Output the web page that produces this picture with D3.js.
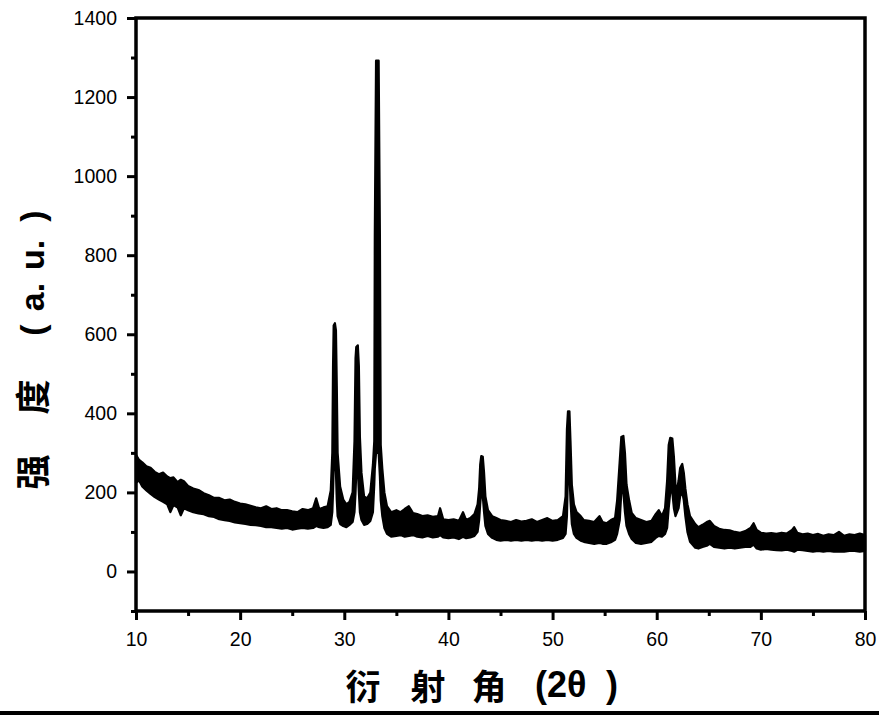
<!DOCTYPE html>
<html><head><meta charset="utf-8">
<script src="https://cdn.jsdelivr.net/npm/d3@7"></script>
<style>body{margin:0;background:#fff}svg{display:block}</style>
</head><body><svg id="c" width="879" height="715"></svg>
<script>
// 2θ positions (degrees) and the read lower / upper edges of the noisy trace (a.u.)
const twoTheta = [10.0,10.3,10.6,11.0,11.4,11.8,12.2,12.6,13.0,13.3,13.6,14.0,14.3,14.6,15.0,15.5,16.0,16.5,17.0,17.5,18.0,18.5,19.0,19.5,20.0,20.5,21.0,21.5,22.0,22.5,23.0,23.5,24.0,24.5,25.0,25.5,26.0,26.5,27.0,27.3,27.6,28.0,28.4,28.7,28.85,28.92,28.98,29.1,29.2,29.28,29.36,29.6,29.9,30.2,30.5,30.8,30.98,31.08,31.15,31.3,31.4,31.5,31.65,31.9,32.2,32.5,32.75,32.88,32.93,33.05,33.3,33.42,33.5,33.65,33.85,34.1,34.5,35.0,35.4,35.8,36.2,36.6,37.0,37.5,38.0,38.5,39.0,39.2,39.5,40.0,40.5,41.0,41.4,41.7,42.1,42.5,42.8,42.95,43.05,43.15,43.3,43.42,43.55,43.8,44.2,44.6,45.0,45.5,46.0,46.5,47.0,47.5,48.0,48.5,49.0,49.5,50.0,50.5,51.0,51.25,51.38,51.48,51.62,51.72,51.85,52.05,52.3,52.7,53.0,53.5,54.0,54.5,54.8,55.2,55.6,56.0,56.2,56.45,56.6,56.8,56.95,57.1,57.35,57.6,58.0,58.5,59.0,59.5,59.9,60.2,60.5,60.8,61.0,61.15,61.3,61.5,61.65,61.8,61.95,62.1,62.25,62.45,62.6,62.75,62.95,63.2,63.7,64.0,64.4,64.8,65.1,65.5,66.0,66.5,67.0,67.5,68.0,68.5,69.0,69.3,69.6,70.0,70.5,71.0,71.5,72.0,72.5,73.0,73.2,73.5,74.0,74.5,75.0,75.5,76.0,76.5,77.0,77.5,78.0,78.5,79.0,79.5,80.0];
const lowerIntensity = [225,230,215,205,196,188,182,176,170,150,168,162,142,160,155,150,147,145,140,138,132,130,128,124,122,120,118,117,115,112,112,110,108,110,106,108,110,108,110,115,112,110,112,118,150,200,260,300,250,180,140,120,115,112,118,125,150,200,250,260,200,150,130,118,120,128,150,220,260,300,300,240,180,140,110,95,88,90,92,88,90,92,88,86,90,86,88,92,86,84,86,82,88,84,86,90,100,130,170,200,190,150,115,95,85,80,78,80,78,80,78,80,78,80,78,80,78,80,85,95,140,250,250,180,120,95,85,78,75,72,70,72,70,70,74,80,95,130,200,200,150,115,95,82,72,70,72,75,85,90,88,95,110,160,200,200,160,140,150,160,190,200,180,140,100,75,60,58,62,65,70,62,60,58,60,58,60,62,62,68,58,55,57,55,54,53,55,52,50,55,54,52,50,52,50,52,50,51,50,52,52,50,52];
const upperIntensity = [295,282,276,266,262,252,246,250,240,236,238,226,232,228,216,210,206,198,193,186,186,180,182,176,172,170,166,162,160,165,158,160,155,155,152,150,158,155,160,185,158,162,165,205,300,520,622,628,610,470,300,215,182,170,176,200,330,540,568,572,520,340,250,190,185,200,270,330,850,1292,1292,850,320,260,200,165,150,155,150,158,165,148,145,140,142,138,140,160,132,130,132,128,150,130,135,145,170,210,270,292,290,250,190,155,140,135,130,128,125,130,126,128,132,125,130,135,128,130,140,190,360,405,405,330,220,170,150,140,130,128,125,140,125,122,130,135,180,280,340,343,300,220,180,148,135,130,125,128,145,155,140,160,230,320,338,336,290,220,205,230,262,272,250,210,170,140,120,112,118,125,128,115,108,105,104,100,98,102,110,122,105,98,96,97,95,98,96,105,112,98,94,96,92,95,90,94,92,100,90,94,92,96,92];
const xTickValues = [10,20,30,40,50,60,70,80];
const xMinorValues = [15,25,35,45,55,65,75];
const yTickValues = [0,200,400,600,800,1000,1200,1400];
const yMinorValues = [-100,100,300,500,700,900,1100,1300];
const xTitleParts = ["衍","射","角","(2θ",")"];
const yTitleParts = ["强","度","(","a.","u.",")"];

(function(){
const svg = d3.select("#c");
const W = 879, H = 715;
const pL = 136, pR = 865, pT = 18, pB = 611;
const x = d3.scaleLinear().domain([10,80]).range([pL,pR]);
const y = d3.scaleLinear().domain([-100,1400]).range([pB,pT]);

svg.append("rect").attr("width",W).attr("height",H).attr("fill","#fff");

const idx = d3.range(twoTheta.length);
const area = d3.area()
  .x(i => x(twoTheta[i]))
  .y0(i => y(lowerIntensity[i]))
  .y1(i => y(upperIntensity[i]));
svg.append("path").datum(idx).attr("d", area)
  .attr("fill","#000").attr("stroke","#000").attr("stroke-width",2.2).attr("stroke-linejoin","round");

const font = "'Liberation Sans', Arial, sans-serif";
const cjk = "'Noto Sans CJK SC', sans-serif";
function styleAxis(g){
  g.select(".domain").remove();
  g.selectAll(".tick line").attr("stroke","#000").attr("stroke-width",3);
  g.selectAll("text").attr("font-family",font).attr("font-size",19.5).attr("fill","#000");
}
svg.append("g").attr("transform",`translate(${pL},0)`)
  .call(d3.axisLeft(y).tickValues(yTickValues).tickSize(9).tickPadding(10).tickFormat(d3.format("d")))
  .call(styleAxis);
svg.append("g").attr("transform",`translate(${pL},0)`)
  .call(d3.axisLeft(y).tickValues(yMinorValues).tickSize(5).tickFormat(""))
  .call(styleAxis);
svg.append("g").attr("transform",`translate(0,${pB})`)
  .call(d3.axisBottom(x).tickValues(xTickValues).tickSize(9).tickPadding(12).tickFormat(d3.format("d")))
  .call(styleAxis);
svg.append("g").attr("transform",`translate(0,${pB})`)
  .call(d3.axisBottom(x).tickValues(xMinorValues).tickSize(5).tickFormat(""))
  .call(styleAxis);

svg.append("rect").attr("x",pL).attr("y",pT).attr("width",pR-pL).attr("height",pB-pT)
  .attr("fill","none").attr("stroke","#000").attr("stroke-width",3.5);

// x title: spaced glyphs
const xPos = [363, 428, 489, 535, 606];
const xAnchor = ["middle","middle","middle","start","start"];
xTitleParts.forEach((t,i) => {
  const isLatin = /[()0-9θ]/.test(t);
  svg.append("text").attr("x",xPos[i]).attr("y",isLatin ? 697 : 700).attr("text-anchor",xAnchor[i])
    .attr("font-family", isLatin ? font : cjk).attr("font-weight","bold")
    .attr("font-size", isLatin ? 36 : 35).attr("fill","#000").text(t);
});
// y title: rotated, spaced glyphs (positions along the vertical)
const yPos = [472, 397, 330, 297, 255, 216];
yTitleParts.forEach((t,i) => {
  const isCJK = /[强度]/.test(t);
  svg.append("text").attr("transform",`translate(${isCJK ? 46 : 44},${yPos[i]}) rotate(-90)`)
    .attr("text-anchor","middle")
    .attr("font-family", isCJK ? cjk : font).attr("font-weight","bold")
    .attr("font-size", isCJK ? 35 : 34).attr("fill","#000").text(t);
});

svg.append("rect").attr("x",0).attr("y",711).attr("width",W).attr("height",4).attr("fill","#000");
})();
</script>
</body></html>
